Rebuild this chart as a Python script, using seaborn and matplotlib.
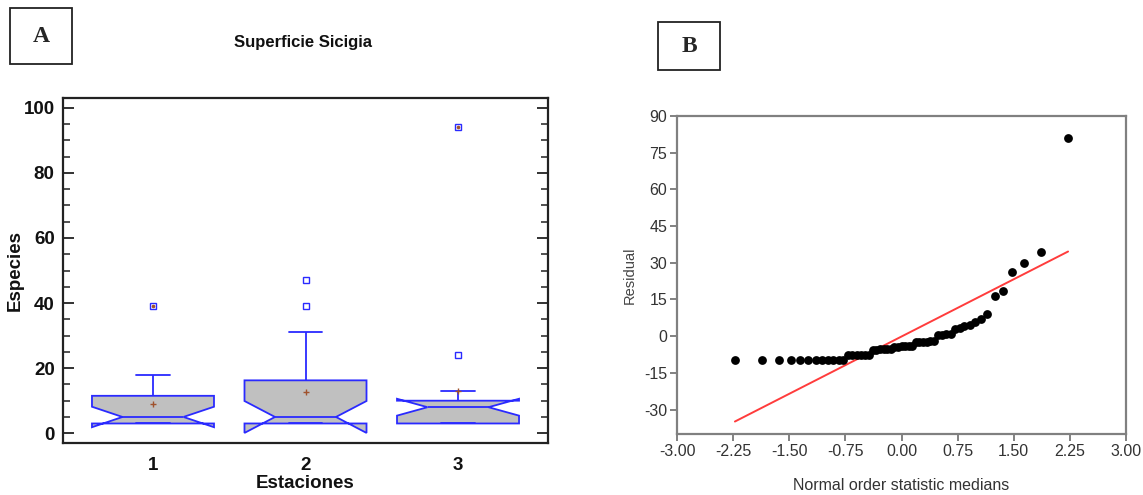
import numpy as np
import pandas as pd
import matplotlib
matplotlib.use("Agg")
import matplotlib.pyplot as plt
from matplotlib import font_manager
from matplotlib.ticker import MultipleLocator, FixedLocator, FuncFormatter
from matplotlib.patches import Rectangle
import seaborn as sns

# ---- Panel A: species counts per station ----
estaciones = ["1", "2", "3"]
especies_est1 = [3, 3, 3, 3, 3, 3, 4, 5, 5, 5, 6, 8, 10, 12, 14, 16, 18, 39]
especies_est2 = [3, 3, 3, 3, 3, 3, 4, 5, 5, 5, 7, 10, 14, 17, 25, 31, 39, 47]
especies_est3 = [3, 3, 3, 3, 3, 3, 8, 8, 8, 8, 10, 10, 10, 10, 13, 13, 24, 94]
y_ticks_a = [0, 20, 40, 60, 80, 100]

# ---- Panel B: normal probability plot of residuals ----
normal_medians = [-2.226, -1.859, -1.642, -1.483, -1.355, -1.245, -1.149, -1.063,
                  -0.983, -0.910, -0.841, -0.776, -0.714, -0.655, -0.597, -0.542,
                  -0.488, -0.436, -0.385, -0.335, -0.286, -0.237, -0.189, -0.141,
                  -0.094, -0.047, 0.000, 0.047, 0.094, 0.141, 0.189, 0.237,
                  0.286, 0.335, 0.385, 0.436, 0.488, 0.542, 0.597, 0.655,
                  0.714, 0.776, 0.841, 0.910, 0.983, 1.063, 1.149, 1.245,
                  1.355, 1.483, 1.642, 1.859, 2.226]
residuales = [-9.8, -9.8, -9.8, -9.8, -9.8, -9.8, -9.8, -9.8, -9.8, -9.8, -9.8, -9.8,
              -7.9, -7.9, -7.8, -7.8, -7.6, -7.6,
              -5.6, -5.6, -5.4, -5.4, -5.2, -5.2,
              -4.4, -4.4, -4.2, -4.2, -4.0, -4.0,
              -2.4, -2.4, -2.2, -2.2, -2.0, -2.0,
              0.5, 0.6, 0.8, 0.9,
              3.1, 3.4, 4.0, 4.6,
              5.6, 7.2, 9.2, 16.4, 18.3, 26.3, 30.1, 34.3, 81.2]
recta_x = [-2.226, 2.226]
recta_y = [-34.9, 34.6]
x_ticks_b = [-3.00, -2.25, -1.50, -0.75, 0.00, 0.75, 1.50, 2.25, 3.00]
y_ticks_b = [-30, -15, 0, 15, 30, 45, 60, 75, 90]

sns.set_style("white")
plt.rcParams["font.family"] = ["Liberation Sans", "DejaVu Sans"]
plt.rcParams["axes.unicode_minus"] = False

installed = {f.name for f in font_manager.fontManager.ttflist}
narrow = "Liberation Sans Narrow" if "Liberation Sans Narrow" in installed else "Liberation Sans"

W, H = 1143, 495
fig = plt.figure(figsize=(W / 100, H / 100), dpi=100)
fig.patch.set_facecolor("white")


def fx(px):
    return px / W


def fy(py):
    return 1 - py / H


# ================= Panel A =================
axA = fig.add_axes([fx(63), fy(443), (548 - 63) / W, (443 - 98) / H])

grupos = [especies_est1, especies_est2, especies_est3]
df = pd.DataFrame({
    "Estaciones": np.concatenate([[e] * len(g) for e, g in zip(estaciones, grupos)]),
    "Especies": np.concatenate(grupos),
})

azul = "#2a2aff"
marron = "#a0522d"
sns.boxplot(
    data=df, x="Estaciones", y="Especies", order=estaciones, ax=axA,
    notch=True, width=0.8, color="#c0c0c0", saturation=1,
    linecolor=azul, linewidth=1.3,
    flierprops=dict(marker="s", markerfacecolor="none", markeredgecolor=azul,
                    markeredgewidth=1.0, markersize=3.8),
    showmeans=True,
    meanprops=dict(marker="+", markeredgecolor=marron, markerfacecolor=marron,
                   markersize=4, markeredgewidth=1.0),
    capwidths=0.22,
)

# far outliers (beyond Q3 + 3 IQR) get an inner mark
for i, vals in enumerate(grupos):
    q1, q3 = np.percentile(vals, [25, 75])
    lejanos = [v for v in vals if v > q3 + 3 * (q3 - q1)]
    axA.plot([i] * len(lejanos), lejanos, linestyle="none", marker="o",
             markersize=1.6, color=marron, zorder=5)

axA.set_xlim(-0.59, 2.59)
axA.set_ylim(-3, 103)
axA.yaxis.set_major_locator(FixedLocator(y_ticks_a))
axA.yaxis.set_minor_locator(MultipleLocator(5))
axA.tick_params(axis="y", which="both", direction="in", left=True, right=True,
                labelright=False, color="#222222", pad=6)
axA.tick_params(axis="y", which="major", length=8, width=1.3)
axA.tick_params(axis="y", which="minor", length=5, width=1.1)
axA.tick_params(axis="x", length=0, pad=10)
for lab in axA.get_xticklabels() + axA.get_yticklabels():
    lab.set_fontsize(13.5)
    lab.set_fontweight("bold")
    lab.set_color("#111111")
for sp in axA.spines.values():
    sp.set_linewidth(1.6)
    sp.set_color("#222222")
axA.set_ylabel("Especies", fontsize=13.5, fontweight="bold", color="#111111",
               ha="center", va="center")
axA.set_xlabel("Estaciones", fontsize=13.5, fontweight="bold", color="#111111",
               ha="center", va="center")
axA.yaxis.set_label_coords((15 - 63) / 485, 0.5)
axA.xaxis.set_label_coords(0.5, (443 - 484) / 345)

fig.text(fx(303), fy(42), "Superficie Sicigia", ha="center", va="center",
         fontsize=12, fontweight="bold", color="#111111")

# panel letters in boxes
fig.add_artist(Rectangle((fx(10), fy(64)), 62 / W, 56 / H, transform=fig.transFigure,
                         fill=False, lw=1.3, ec="#222222"))
fig.text(fx(41), fy(37), "A", ha="center", va="center", fontsize=17,
         fontweight="bold", family=["Liberation Serif", "DejaVu Serif"])
fig.add_artist(Rectangle((fx(658), fy(70)), 62 / W, 48 / H, transform=fig.transFigure,
                         fill=False, lw=1.3, ec="#222222"))
fig.text(fx(689), fy(46), "B", ha="center", va="center", fontsize=17,
         fontweight="bold", family=["Liberation Serif", "DejaVu Serif"])

# ================= Panel B =================
axB = fig.add_axes([fx(677), fy(434), (1126 - 677) / W, (434 - 116) / H])
sns.scatterplot(x=normal_medians, y=residuales, color="black", s=40, linewidth=0,
                ax=axB, zorder=3)
sns.lineplot(x=recta_x, y=recta_y, color="#ff3c3c", linewidth=1.4, ax=axB, zorder=2)

axB.set_xlim(-3, 3)
axB.set_ylim(-40, 90)
axB.xaxis.set_major_locator(FixedLocator(x_ticks_b))
axB.yaxis.set_major_locator(FixedLocator(y_ticks_b))
axB.xaxis.set_major_formatter(FuncFormatter(lambda v, p: f"{v:.2f}"))
axB.yaxis.set_major_formatter(FuncFormatter(lambda v, p: f"{v:.0f}"))
axB.tick_params(axis="both", which="major", direction="out", length=5, width=1.3,
                color="#777777", labelcolor="#333333", pad=2,
                bottom=True, left=True, top=False, right=False)
for lab in axB.get_xticklabels() + axB.get_yticklabels():
    lab.set_fontsize(11.5)
    lab.set_family([narrow, "DejaVu Sans"])
for sp in axB.spines.values():
    sp.set_linewidth(1.6)
    sp.set_color("#808080")
axB.set_ylabel("Residual", fontsize=10.5, color="#444444", family=[narrow, "DejaVu Sans"],
               ha="center", va="center")
axB.set_xlabel("Normal order statistic medians", fontsize=11.5, color="#333333",
               family=[narrow, "DejaVu Sans"], ha="center", va="center")
axB.yaxis.set_label_coords((630 - 677) / 449, 0.5)
axB.xaxis.set_label_coords(0.5, (434 - 486) / 318)

fig.savefig("out.png", dpi=100, facecolor="white")
